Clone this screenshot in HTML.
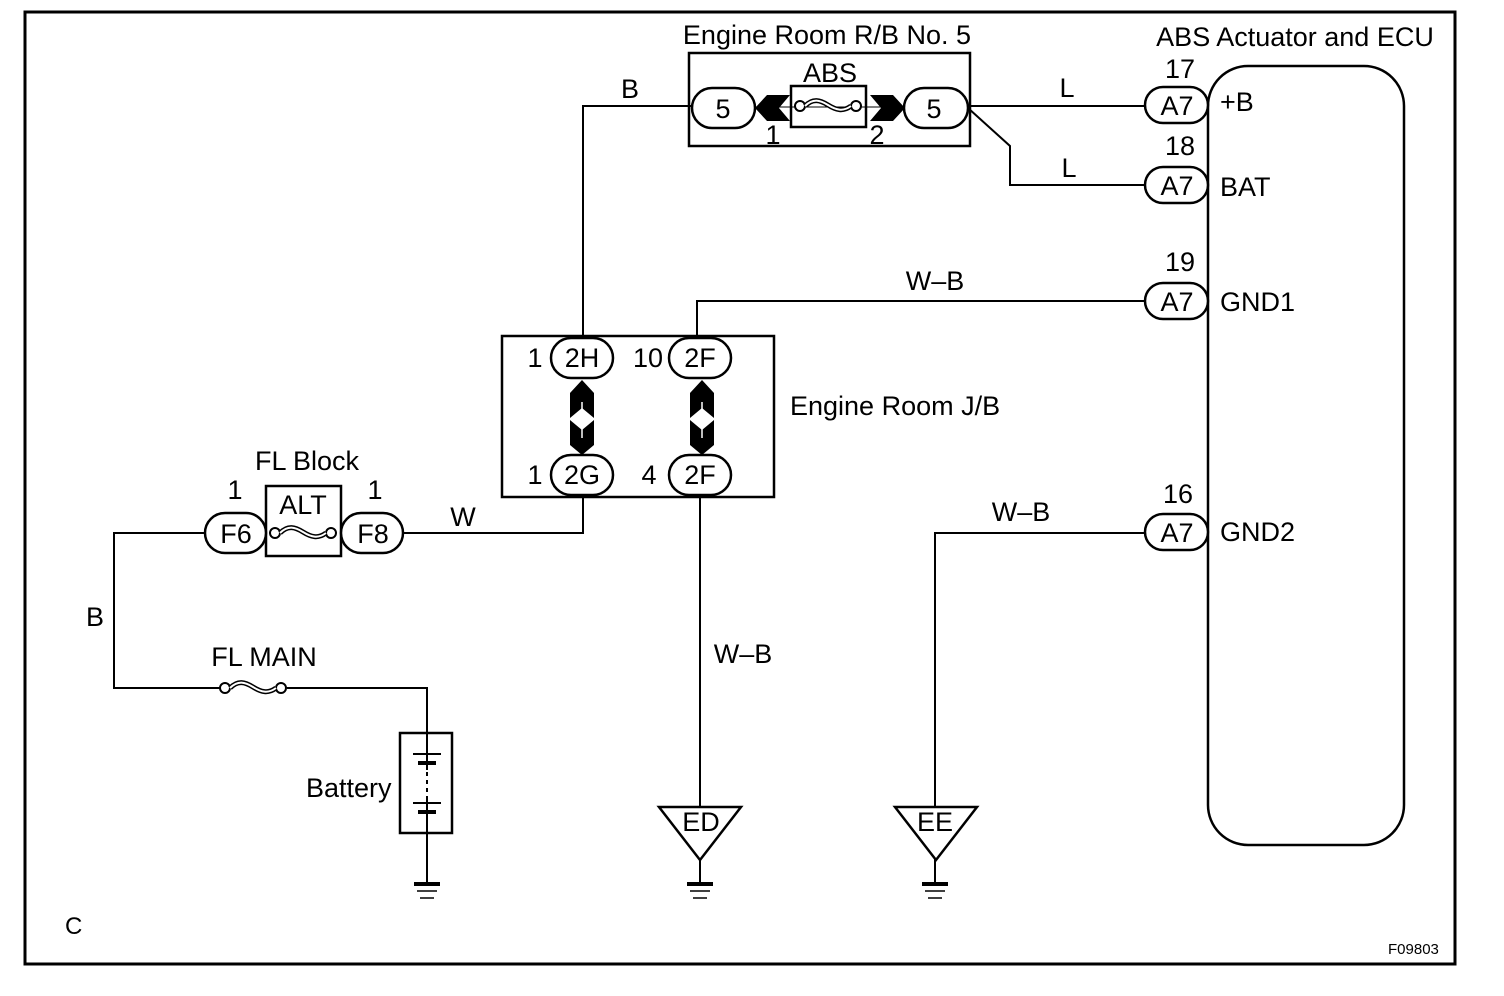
<!DOCTYPE html>
<html><head><style>html,body{margin:0;padding:0;background:#fff}svg{display:block}text{font-family:"Liberation Sans",sans-serif;fill:#000}</style></head><body>
<svg width="1504" height="996" viewBox="0 0 1504 996" xmlns="http://www.w3.org/2000/svg">
<defs>
<g id="gnd"><rect x="-13" y="0" width="26" height="4" fill="#000"/><line x1="-10" y1="9" x2="10" y2="9" stroke="#000" stroke-width="1.5"/><line x1="-7" y1="16" x2="7" y2="16" stroke="#000" stroke-width="1.5"/></g>
<g id="fuse"><circle cx="-28" cy="0" r="5" fill="#fff" stroke="#000" stroke-width="2"/><circle cx="28" cy="0" r="5" fill="#fff" stroke="#000" stroke-width="2"/><path d="M-23 0 C-15 -8,-8 -6,0 -1 S15 6,23 0" fill="none" stroke="#000" stroke-width="5"/><path d="M-23 0 C-15 -8,-8 -6,0 -1 S15 6,23 0" fill="none" stroke="#fff" stroke-width="2"/></g>
</defs>
<rect x="25" y="12" width="1430" height="952" fill="none" stroke="#000" stroke-width="3"/>
<g stroke="#000" stroke-width="2" fill="none">
<polyline points="692,106 583,106 583,338"/>
<line x1="968" y1="106" x2="1145" y2="106"/>
<polyline points="968,108 1010,146 1010,185 1145,185"/>
<polyline points="1145,301 697,301 697,338"/>
<polyline points="583,497 583,533 403,533"/>
<polyline points="205,533 114,533 114,688 220,688"/>
<polyline points="287,688 427,688 427,733"/>
<line x1="427" y1="833" x2="427" y2="882"/>
<line x1="700" y1="497" x2="700" y2="808"/>
<line x1="700" y1="858" x2="700" y2="882"/>
<polyline points="1145,533 935,533 935,808"/>
<line x1="935" y1="858" x2="935" y2="882"/>
</g>
<g stroke="#000" stroke-width="2.5" fill="none">
<rect x="689" y="53" width="281" height="93"/>
<rect x="791" y="86" width="75" height="41"/>
<rect x="502" y="336" width="272" height="161"/>
<rect x="266" y="486" width="75" height="70"/>
<rect x="400" y="733" width="52" height="100"/>
<rect x="1208" y="66" width="196" height="779" rx="40"/>
<path d="M659 807 L741 807 L700 860 Z"/>
<path d="M895 807 L977 807 L936 860 Z"/>
</g>
<g stroke="#000" stroke-width="2.5" fill="#fff">
<rect x="692" y="88" width="63" height="40" rx="20"/>
<rect x="904" y="88" width="64" height="40" rx="20"/>
<rect x="1145" y="87" width="63" height="36" rx="18"/>
<rect x="1145" y="167" width="63" height="36" rx="18"/>
<rect x="1145" y="283" width="63" height="36" rx="18"/>
<rect x="1145" y="514" width="63" height="36" rx="18"/>
<rect x="551" y="338" width="62" height="40" rx="20"/>
<rect x="669" y="338" width="62" height="40" rx="20"/>
<rect x="551" y="455" width="62" height="40" rx="20"/>
<rect x="669" y="455" width="62" height="40" rx="20"/>
<rect x="205" y="513" width="61" height="40" rx="20"/>
<rect x="341" y="513" width="62" height="40" rx="20"/>
</g>
<line x1="755" y1="107" x2="905" y2="107" stroke="#000" stroke-width="1"/>
<use href="#fuse" x="828" y="106"/>
<use href="#fuse" x="303" y="533"/>
<use href="#fuse" x="253" y="688"/>
<path d="M755 108 L767 95 L790 95 L779 108 L790 121 L767 121 Z" fill="#000"/>
<path d="M870 95 L893 95 L905 108 L893 121 L870 121 L881 108 Z" fill="#000"/>
<g fill="#000">
<path d="M582 380 L594 393 L594 418 L582 408 L570 418 L570 393 Z"/>
<path d="M570 420 L582 430 L594 420 L594 445 L582 455 L570 445 Z"/>
<path d="M702 380 L714 393 L714 418 L702 408 L690 418 L690 393 Z"/>
<path d="M690 420 L702 430 L714 420 L714 445 L702 455 L690 445 Z"/>
</g>
<line x1="582" y1="402" x2="582" y2="438" stroke="#fff" stroke-width="1.5"/>
<line x1="702" y1="402" x2="702" y2="438" stroke="#fff" stroke-width="1.5"/>
<g stroke="#000">
<line x1="427" y1="733" x2="427" y2="833" stroke-width="2"/>
<line x1="413" y1="754" x2="441" y2="754" stroke-width="2"/>
<line x1="418" y1="763" x2="436" y2="763" stroke-width="4"/>
<line x1="413" y1="803" x2="441" y2="803" stroke-width="2"/>
<line x1="418" y1="812" x2="436" y2="812" stroke-width="4"/>
</g>
<rect x="424" y="770" width="6" height="28" fill="#fff"/>
<line x1="427" y1="772" x2="427" y2="798" stroke="#000" stroke-width="2" stroke-dasharray="4 4"/>
<use href="#gnd" x="427" y="882"/>
<use href="#gnd" x="700" y="882"/>
<use href="#gnd" x="935" y="882"/>
<g font-size="27" text-anchor="middle">
<text x="827" y="44">Engine Room R/B No. 5</text>
<text x="1295" y="46">ABS Actuator and ECU</text>
<text x="830" y="82">ABS</text>
<text x="723" y="118">5</text>
<text x="934" y="118">5</text>
<text x="773" y="144">1</text>
<text x="877" y="144">2</text>
<text x="630" y="98">B</text>
<text x="1067" y="97">L</text>
<text x="1069" y="177">L</text>
<text x="935" y="290">W–B</text>
<text x="1021" y="521">W–B</text>
<text x="743" y="663">W–B</text>
<text x="463" y="526">W</text>
<text x="95" y="626">B</text>
<text x="264" y="666">FL MAIN</text>
<text x="307" y="470">FL Block</text>
<text x="303" y="514">ALT</text>
<text x="235" y="499">1</text>
<text x="375" y="499">1</text>
<text x="236" y="543">F6</text>
<text x="373" y="543">F8</text>
<text x="582" y="367">2H</text>
<text x="700" y="367">2F</text>
<text x="582" y="484">2G</text>
<text x="700" y="484">2F</text>
<text x="535" y="367">1</text>
<text x="648" y="367">10</text>
<text x="535" y="484">1</text>
<text x="649" y="484">4</text>
<text x="1177" y="115">A7</text>
<text x="1177" y="195">A7</text>
<text x="1177" y="311">A7</text>
<text x="1177" y="542">A7</text>
<text x="1180" y="78">17</text>
<text x="1180" y="155">18</text>
<text x="1180" y="271">19</text>
<text x="1178" y="503">16</text>
<text x="701" y="831">ED</text>
<text x="935" y="831">EE</text>
</g>
<g font-size="27">
<text x="1220" y="111">+B</text>
<text x="1220" y="196">BAT</text>
<text x="1220" y="311">GND1</text>
<text x="1220" y="541">GND2</text>
<text x="790" y="415">Engine Room J/B</text>
<text x="306" y="797">Battery</text>
<text x="65" y="934" font-size="24">C</text>
<text x="1388" y="954" font-size="15">F09803</text>
</g>
</svg>
</body></html>
